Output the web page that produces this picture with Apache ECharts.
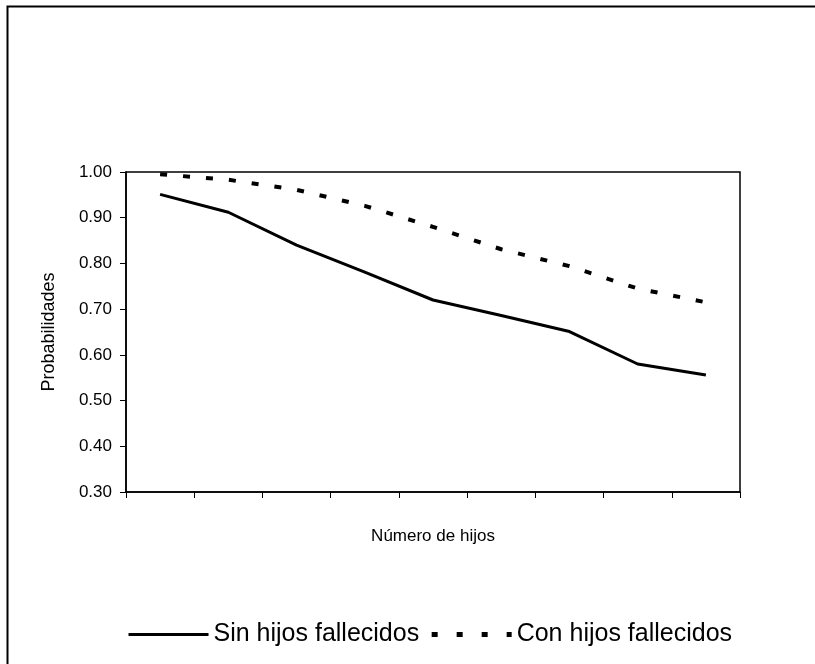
<!DOCTYPE html>
<html>
<head>
<meta charset="utf-8">
<script src="https://cdn.jsdelivr.net/npm/echarts@6/dist/echarts.min.js"></script>
<style>
html,body{margin:0;padding:0;background:#fff;}
#chart{width:815px;height:664px;}
</style>
</head>
<body>
<div id="chart"></div>
<script>
var categories = ['1','2','3','4','5','6','7','8','9'];
var sinHijos = [0.951, 0.912, 0.840, 0.781, 0.720, 0.686, 0.651, 0.580, 0.556];
var conHijos = [0.995, 0.983, 0.961, 0.926, 0.880, 0.831, 0.794, 0.745, 0.715];
var seriesNames = ['Sin hijos fallecidos', 'Con hijos fallecidos'];
var yTitle = 'Probabilidades';
var xTitle = 'Número de hijos';

var font = 'Liberation Sans, Arial, sans-serif';
var chart = echarts.init(document.getElementById('chart'));
chart.setOption({
  animation: false,
  backgroundColor: '#fff',
  graphic: [{
    type: 'rect', left: 5, top: 4,
    shape: {width: 830, height: 680},
    style: {fill: 'none', stroke: '#000', lineWidth: 2}
  }],
  grid: {left: 126, top: 172, width: 614, height: 320, show: true, borderColor: '#000', borderWidth: 1.5},
  legend: {
    left: 122, top: 617, itemWidth: 80, itemHeight: 24, itemGap: 10,
    itemStyle: {opacity: 0},
    textStyle: {fontFamily: font, fontSize: 25, color: '#000'},
    data: [
      {name: seriesNames[0], lineStyle: {width: 3, type: 'solid', color: '#000'}},
      {name: seriesNames[1], lineStyle: {width: 5, type: [6, 19], color: '#000'}}
    ]
  },
  xAxis: {
    type: 'category', data: categories, boundaryGap: true,
    name: xTitle, nameLocation: 'middle', nameGap: 36,
    nameTextStyle: {fontFamily: font, fontSize: 17, color: '#000'},
    axisLine: {lineStyle: {color: '#000', width: 1.5}},
    axisTick: {show: true, length: 6, interval: 0, lineStyle: {color: '#000', width: 1}},
    axisLabel: {show: false},
    splitLine: {show: false}
  },
  yAxis: {
    type: 'value', min: 0.3, max: 1.0, interval: 0.1,
    name: yTitle, nameLocation: 'middle', nameGap: 68,
    nameTextStyle: {fontFamily: font, fontSize: 18, color: '#000'},
    axisLine: {show: true, lineStyle: {color: '#000', width: 1.5}},
    axisTick: {show: true, length: 6, lineStyle: {color: '#000', width: 1}},
    axisLabel: {fontFamily: font, fontSize: 17, color: '#000', margin: 14,
      formatter: function(v){ return v.toFixed(2); }},
    splitLine: {show: false}
  },
  series: [
    {name: seriesNames[0], type: 'line', data: sinHijos, symbol: 'none',
     lineStyle: {color: '#000', width: 3, type: 'solid'}, itemStyle: {color: '#000'}},
    {name: seriesNames[1], type: 'line', data: conHijos, symbol: 'none',
     lineStyle: {color: '#000', width: 4, type: [7, 16]}, itemStyle: {color: '#000'}}
  ]
});
</script>
</body>
</html>
